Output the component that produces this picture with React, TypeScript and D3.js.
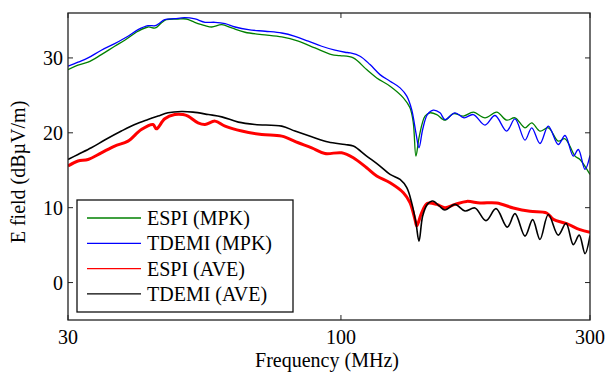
import React from 'react';
import * as d3 from 'd3';

// ESPI (MPK) - green
const espiMpkFreq = [30.0, 31.35, 32.77, 34.75, 36.86, 38.53, 40.86, 42.7, 44.1, 45.28, 46.29, 48.75, 50.56, 52.47, 54.91, 56.56, 59.11, 61.78, 65.51, 70.52, 77.01, 82.85, 89.19, 96.01, 99.59, 105.6, 112.0, 117.1, 124.2, 131.7, 135.6, 137.6, 139.2, 141.3, 144.9, 148.1, 152.6, 158.2, 164.2, 171.6, 179.3, 188.8, 198.8, 207.7, 215.5, 225.2, 232.0, 240.6, 249.6, 260.8, 268.7, 280.8, 287.0, 300];
const espiMpk = [28.44, 29.03, 29.43, 30.44, 31.56, 32.36, 33.56, 34.13, 34.0, 34.67, 35.11, 35.2, 35.2, 34.76, 34.31, 34.13, 34.44, 34.0, 33.43, 33.11, 32.8, 32.23, 31.33, 30.44, 30.31, 30.0, 28.44, 27.33, 26.23, 24.67, 23.33, 21.33, 16.89, 19.56, 22.23, 22.67, 22.44, 21.69, 22.57, 22.23, 22.76, 22.0, 22.76, 21.69, 22.0, 20.67, 21.33, 20.23, 20.67, 18.89, 19.2, 16.89, 16.44, 14.44];

// TDEMI (MPK) - blue
const tdemiMpkFreq = [30.0, 31.35, 32.77, 34.75, 36.86, 39.09, 40.86, 42.7, 44.1, 44.96, 45.97, 48.04, 50.21, 52.54, 54.91, 57.39, 59.98, 62.69, 66.47, 71.56, 77.01, 81.66, 86.59, 91.87, 97.42, 101.8, 104.1, 108.8, 113.7, 118.8, 124.2, 129.8, 133.7, 136.6, 139.2, 141.1, 143.4, 146.4, 150.3, 154.8, 158.2, 165.4, 172.1, 179.3, 188.8, 197.3, 207.7, 215.5, 225.2, 232.0, 240.6, 249.6, 260.8, 268.7, 278.7, 284.9, 293.5, 300];
const tdemiMpk = [28.89, 29.43, 30.0, 31.03, 31.91, 32.89, 33.77, 34.31, 34.31, 34.67, 35.11, 35.24, 35.37, 35.2, 34.76, 34.76, 34.57, 34.13, 33.77, 33.56, 33.33, 32.89, 32.23, 31.56, 31.03, 30.76, 30.67, 30.23, 29.11, 27.77, 26.89, 26.0, 24.89, 23.11, 20.0, 18.0, 20.44, 22.44, 23.03, 22.67, 21.77, 22.67, 22.0, 22.44, 21.03, 22.31, 20.23, 21.87, 19.03, 20.67, 18.57, 20.89, 18.44, 19.64, 16.89, 17.77, 15.11, 16.97];

// ESPI (AVE) - red
const espiAveFreq = [30.0, 31.35, 32.77, 34.75, 36.86, 39.09, 41.46, 43.65, 44.3, 45.97, 48.04, 49.83, 50.94, 53.24, 54.91, 57.39, 59.98, 64.57, 70.52, 77.01, 82.85, 87.9, 93.21, 100.3, 105.6, 112.0, 117.1, 124.2, 131.7, 135.6, 138.6, 139.7, 142.8, 146.4, 152.6, 158.2, 165.4, 174.1, 184.7, 198.8, 213.9, 230.2, 247.8, 255.2, 270.7, 287.0, 300];
const espiAve = [15.56, 16.23, 16.44, 17.33, 18.23, 18.89, 20.44, 21.11, 20.53, 21.87, 22.44, 22.44, 22.23, 21.33, 21.11, 21.56, 20.89, 20.23, 19.77, 19.56, 18.67, 18.0, 17.24, 17.33, 16.67, 15.33, 14.23, 13.33, 12.0, 10.67, 8.44, 7.56, 9.33, 10.57, 10.44, 10.0, 10.44, 10.84, 10.63, 10.63, 9.96, 9.51, 9.29, 8.44, 7.87, 7.07, 6.73];

// TDEMI (AVE) - black
const tdemiAveFreq = [30.0, 31.35, 33.25, 35.27, 37.96, 40.27, 42.7, 44.63, 46.64, 49.46, 52.08, 55.71, 59.11, 63.61, 68.47, 77.01, 81.66, 87.9, 94.58, 101.8, 105.6, 112.0, 118.8, 124.2, 129.8, 133.7, 136.6, 139.2, 141.1, 143.4, 146.4, 149.9, 154.3, 158.2, 165.4, 172.8, 180.6, 189.6, 198.2, 208.3, 215.5, 225.2, 233.0, 240.6, 249.6, 260.8, 269.9, 278.7, 286.1, 293.5, 300];
const tdemiAve = [16.44, 17.11, 18.0, 19.03, 20.23, 21.11, 21.77, 22.23, 22.67, 22.84, 22.76, 22.44, 22.13, 21.43, 21.11, 20.89, 20.23, 19.47, 18.76, 18.44, 18.23, 16.89, 15.56, 14.44, 13.77, 12.67, 10.67, 8.0, 5.53, 8.89, 10.44, 10.89, 10.23, 9.69, 10.44, 9.56, 9.96, 8.27, 9.87, 7.4, 9.2, 6.2, 8.4, 5.76, 9.09, 6.33, 7.93, 5.07, 6.33, 3.87, 6.27];

const xTicks = [30, 100, 300];
const yTicks = [0, 10, 20, 30];

const series = [
  { name: 'ESPI (MPK)', freq: espiMpkFreq, vals: espiMpk, color: '#008000', width: 1.3 },
  { name: 'TDEMI (MPK)', freq: tdemiMpkFreq, vals: tdemiMpk, color: '#0000ff', width: 1.3 },
  { name: 'ESPI (AVE)', freq: espiAveFreq, vals: espiAve, color: '#ff0000', width: 3 },
  { name: 'TDEMI (AVE)', freq: tdemiAveFreq, vals: tdemiAve, color: '#000000', width: 1.6 },
];

const W = 606;
const H = 373;
const margin = { top: 13, right: 16, bottom: 53, left: 68 };
const txt = { fontFamily: "'Liberation Serif', 'Times New Roman', 'DejaVu Serif', serif", fontSize: '20px' };

export default function App() {
  const x = d3.scaleLog().domain([30, 300]).range([margin.left, W - margin.right]);
  const y = d3.scaleLinear().domain([-5, 36]).range([H - margin.bottom, margin.top]);
  const x0 = margin.left, x1 = W - margin.right, y0 = H - margin.bottom, y1 = margin.top;

  const line = d3.line<[number, number]>()
    .x(d => x(d[0]))
    .y(d => y(d[1]))
    .curve(d3.curveCatmullRom.alpha(0.5));

  const tick = 5;

  return (
    <svg width={W} height={H} style={{ position: 'absolute', left: 0, top: 0, background: '#fff' }}>
      <defs>
        <clipPath id="plot">
          <rect x={x0} y={y1} width={x1 - x0} height={y0 - y1} />
        </clipPath>
      </defs>
      <g clipPath="url(#plot)">
        {series.map(s => (
          <path key={s.name}
            d={line(s.freq.map((f, i) => [f, s.vals[i]] as [number, number])) || ''}
            fill="none" stroke={s.color} strokeWidth={s.width} strokeLinejoin="round" />
        ))}
      </g>
      {/* axes box with inward ticks */}
      <rect x={x0} y={y1} width={x1 - x0} height={y0 - y1} fill="none" stroke="#222" strokeWidth={1.3} />
      {xTicks.map(t => (
        <g key={'xt' + t}>
          <line x1={x(t)} x2={x(t)} y1={y0} y2={y0 - tick} stroke="#222" />
          <line x1={x(t)} x2={x(t)} y1={y1} y2={y1 + tick} stroke="#222" />
          <text x={x(t)} y={344} textAnchor="middle" style={txt}>{t}</text>
        </g>
      ))}
      {yTicks.map(t => (
        <g key={'yt' + t}>
          <line x1={x0} x2={x0 + tick} y1={y(t)} y2={y(t)} stroke="#222" />
          <line x1={x1} x2={x1 - tick} y1={y(t)} y2={y(t)} stroke="#222" />
          <text x={63} y={y(t)} dy="0.35em" textAnchor="end" style={txt}>{t}</text>
        </g>
      ))}
      <text x={327} y={367} textAnchor="middle" style={txt}>Frequency (MHz)</text>
      <text transform="translate(25,172) rotate(-90)" textAnchor="middle" style={txt}>E field (dBµV/m)</text>
      {/* legend */}
      <g>
        <rect x={77} y={200} width={216} height={112} fill="#fff" stroke="#111" strokeWidth={1.3} />
        {series.map((s, i) => {
          const ly = 218 + i * 25.3;
          return (
            <g key={'lg' + s.name}>
              <line x1={87} x2={141} y1={ly} y2={ly} stroke={s.color} strokeWidth={1.3} />
              <text x={147} y={ly} dy="0.35em" style={txt}>{s.name}</text>
            </g>
          );
        })}
      </g>
    </svg>
  );
}
